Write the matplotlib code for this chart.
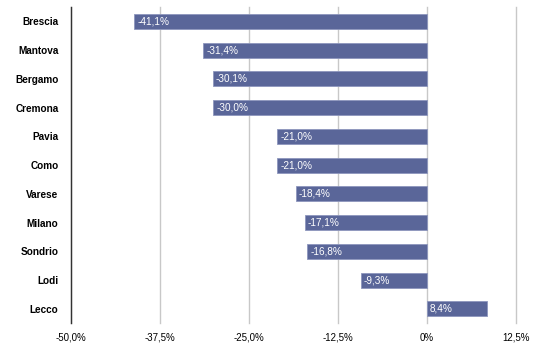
import matplotlib
matplotlib.use("Agg")
import matplotlib.pyplot as plt
from matplotlib.ticker import FixedLocator

provinces = ["Brescia", "Mantova", "Bergamo", "Cremona", "Pavia", "Como",
             "Varese", "Milano", "Sondrio", "Lodi", "Lecco"]
values = [-41.1, -31.4, -30.1, -30.0, -21.0, -21.0, -18.4, -17.1, -16.8, -9.3, 8.4]
xticks = [-50.0, -37.5, -25.0, -12.5, 0.0, 12.5]
xtick_labels = ["-50,0%", "-37,5%", "-25,0%", "-12,5%", "0%", "12,5%"]

plt.rcParams['font.family'] = ['Liberation Sans', 'DejaVu Sans']

fig = plt.figure(figsize=(5.6, 3.46), dpi=100)
ax = fig.add_axes([0.127, 0.066, 0.794, 0.914])

ypos = list(range(len(provinces)))
color = "#5a6699"
ax.barh(ypos, values, height=0.52, color=color, edgecolor="#8d96bd", linewidth=0.6, zorder=3)

for y, v in zip(ypos, values):
    lab = ("%.1f%%" % v).replace(".", ",")
    x0 = min(v, 0)
    ax.text(x0 + 0.4, y, lab, color="white", fontsize=7.2,
            va="center", ha="left", zorder=4)

ax.set_xlim(-50, 12.5)
ax.set_ylim(len(provinces) - 0.5, -0.5)
ax.xaxis.set_major_locator(FixedLocator(xticks))
ax.set_xticklabels(xtick_labels, fontsize=7)
ax.set_yticks(ypos)
ax.set_yticklabels(provinces, fontsize=7.2, fontweight="bold")
ax.tick_params(axis="both", length=0, pad=7)
ax.tick_params(axis="y", pad=9)

ax.grid(axis="x", color="#c8c8c8", linewidth=1.0, zorder=0)
for gl in ax.get_xgridlines():
    gl.set_clip_on(False)
ax.grid(axis="y", visible=False)
for s in ["top", "right", "bottom"]:
    ax.spines[s].set_visible(False)
ax.spines["left"].set_color("#333333")
ax.spines["left"].set_linewidth(1.0)

fig.savefig("out.png", dpi=100)
